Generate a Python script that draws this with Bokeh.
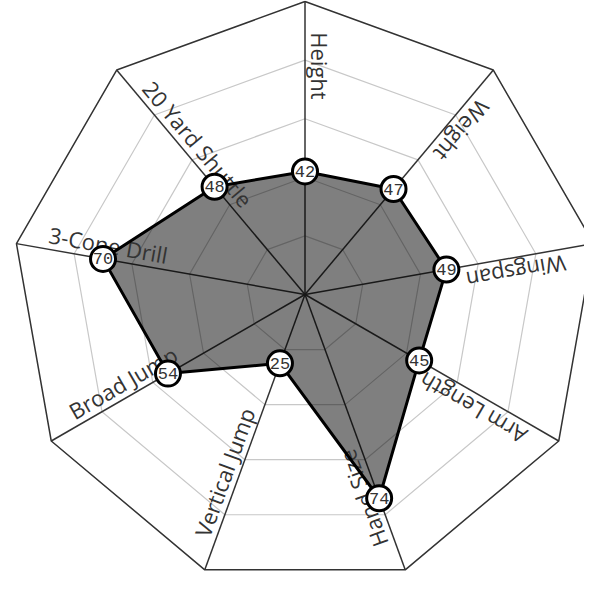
import numpy as np
from bokeh.plotting import figure
from bokeh.models import ColumnDataSource
from bokeh.core.properties import value
from bokeh.embed import file_html
from bokeh.resources import INLINE

# data
categories = ["Height", "Weight", "Wingspan", "Arm Length", "Hand Size",
              "Vertical Jump", "Broad Jump", "3-Cone Drill", "20 Yard Shuttle"]
values = [42, 47, 49, 45, 74, 25, 54, 70, 48]
rings = [20, 40, 60, 80, 100]
max_value = 100

# geometry (pixels per data unit)
W, H = 584, 574
scale = 2.93
cx_px, cy_px = 304.5, 294.0

n = len(categories)
theta = np.radians(90 - 360.0 / n * np.arange(n))

p = figure(width=W, height=H, output_backend="svg", toolbar_location=None,
           x_range=(-cx_px / scale, (W - cx_px) / scale),
           y_range=(-(H - cy_px) / scale, cy_px / scale),
           x_axis_location=None, y_axis_location=None,
           min_border=0, outline_line_color=None)
p.grid.visible = False
p.background_fill_color = "white"
p.border_fill_color = "white"

# rings
for r in rings:
    xs = list(r * np.cos(theta)) + [r * np.cos(theta[0])]
    ys = list(r * np.sin(theta)) + [r * np.sin(theta[0])]
    if r == max_value:
        p.line(xs, ys, line_color="#333333", line_width=1.5)
    else:
        p.line(xs, ys, line_color="#c8c8c8", line_width=1.2)

# spokes
p.segment(x0=[0] * n, y0=[0] * n,
          x1=list(max_value * np.cos(theta)), y1=list(max_value * np.sin(theta)),
          line_color="#333333", line_width=1.5)

# filled area
vx = np.array(values) * np.cos(theta)
vy = np.array(values) * np.sin(theta)
p.patch(list(vx), list(vy), fill_color="black", fill_alpha=0.5, line_color=None)

# axis labels along the spokes, reading inward
lab_r = 89.5
lab = ColumnDataSource(dict(
    x=list(lab_r * np.cos(theta)),
    y=list(lab_r * np.sin(theta)),
    text=categories,
    angle=list(theta + np.pi),
))
p.text(x="x", y="y", text="text", angle="angle", source=lab,
       text_font=value("Open Sans"), text_font_size="22px", text_color="#333333",
       text_align="left", text_baseline="bottom")

# outline
p.line(list(vx) + [vx[0]], list(vy) + [vy[0]], line_color="black", line_width=3,
       line_join="round")

# value markers
pts = ColumnDataSource(dict(x=list(vx), y=list(vy), text=[str(v) for v in values]))
p.scatter(x="x", y="y", source=pts, size=25, fill_color="white",
          line_color="black", line_width=3)
p.text(x="x", y="y", text="text", source=pts, text_font=value("Liberation Mono"),
       text_font_size="17px", text_color="#333333",
       text_align="center", text_baseline="middle")

open("out.html", "w").write(file_html(p, INLINE))
